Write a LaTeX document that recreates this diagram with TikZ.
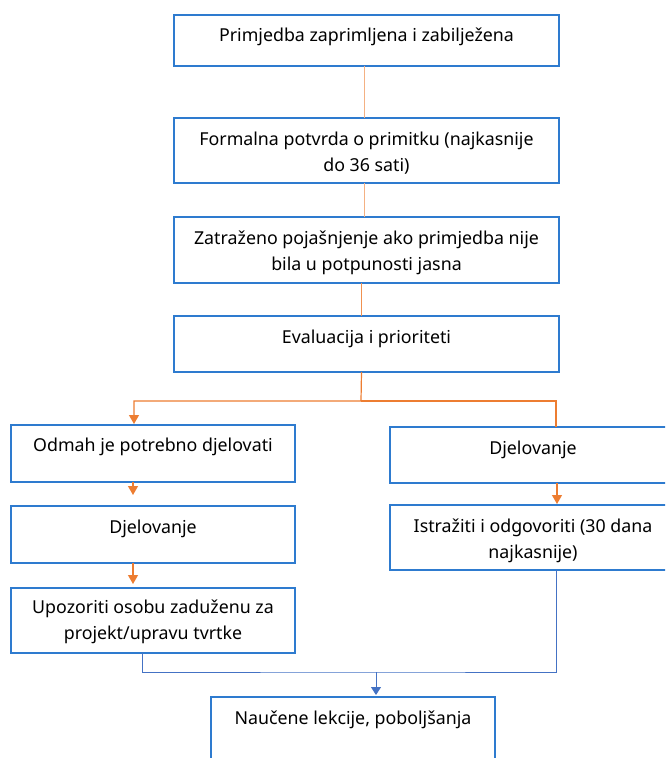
\documentclass[tikz,border=0pt]{standalone}
\usepackage{fontspec}
\setmainfont{Noto Sans}
\usetikzlibrary{arrows.meta,calc}
\definecolor{boxblue}{HTML}{2E7BCF}
\definecolor{orng}{HTML}{ED7D31}
\definecolor{peach}{HTML}{F4B183}
\definecolor{lblue}{HTML}{4472C4}
\begin{document}
\begin{tikzpicture}[x=1pt,y=-1pt,
  flowbox/.style={draw=boxblue,line width=1.3pt,fill=white,anchor=north west,inner sep=0pt,outer sep=0pt},
  boxtext/.style={anchor=north,align=center,inner sep=0pt,font=\fontsize{17.8}{26}\selectfont},
  orarrow/.style={draw=orng,line width=1.2pt,-{Triangle[width=10pt,length=9pt]}},
  blarrow/.style={draw=lblue,line width=1pt,-{Triangle[width=10pt,length=8pt]}}]
\useasboundingbox (0,0) rectangle (665,758);
\clip (0,0) rectangle (665,758);
% boxes
\node[flowbox,minimum width=385pt,minimum height=51pt] (b1) at (174,15) {};
\node[flowbox,minimum width=385pt,minimum height=65pt] (b2) at (174,118) {};
\node[flowbox,minimum width=385pt,minimum height=66pt] (b3) at (174,217) {};
\node[flowbox,minimum width=385pt,minimum height=56pt] (b4) at (174,316) {};
\node[flowbox,minimum width=284pt,minimum height=57pt] (b5) at (11,425) {};
\node[flowbox,minimum width=284pt,minimum height=57pt] (b6) at (11,506) {};
\node[flowbox,minimum width=284pt,minimum height=65pt] (b7) at (11,588) {};
\node[flowbox,minimum width=286pt,minimum height=56pt] (b8) at (390,427) {};
\node[flowbox,minimum width=286pt,minimum height=65pt] (b9) at (390,505) {};
\node[flowbox,minimum width=284pt,minimum height=80pt] (b10) at (211,697) {};
% texts
\node[boxtext] (t1) at ($(b1.north)+(0,13)$) {Primjedba zaprimljena i zabilježena};
\node[boxtext] (t2) at ($(b2.north)+(0,13.5)$) {Formalna potvrda o primitku (najkasnije\\do 36 sati)};
\node[boxtext] (t3) at ($(b3.north)+(0,13.5)$) {Zatraženo pojašnjenje ako primjedba nije\\bila u potpunosti jasna};
\node[boxtext] (t4) at ($(b4.north)+(0,13.5)$) {Evaluacija i prioriteti};
\node[boxtext] (t5) at ($(b5.north)+(0,12.5)$) {Odmah je potrebno djelovati};
\node[boxtext] (t6) at ($(b6.north)+(0,13.5)$) {Djelovanje};
\node[boxtext] (t7) at ($(b7.north)+(0,11.5)$) {Upozoriti osobu zaduženu za\\projekt/upravu tvrtke};
\node[boxtext] (t8) at ($(b8.north)+(0,13.5)$) {Djelovanje};
\node[boxtext] (t9) at ($(b9.north)+(0,13.5)$) {Istražiti i odgovoriti (30 dana\\najkasnije)};
\node[boxtext] (t10) at ($(b10.north)+(0,13.5)$) {Naučene lekcije, poboljšanja};
% connectors
\draw[peach,line width=1.2pt] ([xshift=-2pt]b1.south) -- ([xshift=-2pt]b2.north);
\draw[peach,line width=1.2pt] ([xshift=-2pt]b2.south) -- ([xshift=-2pt]b3.north);
\draw[orng!85,line width=1pt] ([xshift=-5pt]b3.south) -- ([xshift=-5pt]b4.north);
\coordinate (j1) at (361,401);
\draw[orarrow,shorten >=1pt] ([xshift=-5pt]b4.south) -- (j1) -| ($(b5.north west)+(123,0)$);
\draw[draw=orng,line width=1.2pt] (j1) -| ($(b8.north west)+(166,0)$);
\draw[orarrow] ($(b5.south west)+(122,0)$) -- ($(b6.north west)+(122,-11)$);
\draw[orarrow] ($(b6.south west)+(122,0)$) -- ($(b7.north west)+(122,-4)$);
\draw[orarrow] ($(b8.south west)+(167,0)$) -- ($(b9.north west)+(167,-1)$);
\coordinate (j2) at (376,672);
\draw[lblue,line width=1pt] ($(b7.south west)+(131,0)$) |- (j2) -| ($(b9.south west)+(166,0)$);
\draw[blarrow] (j2) -- ($(b10.north west)+(165,-2)$);
\end{tikzpicture}
\end{document}
